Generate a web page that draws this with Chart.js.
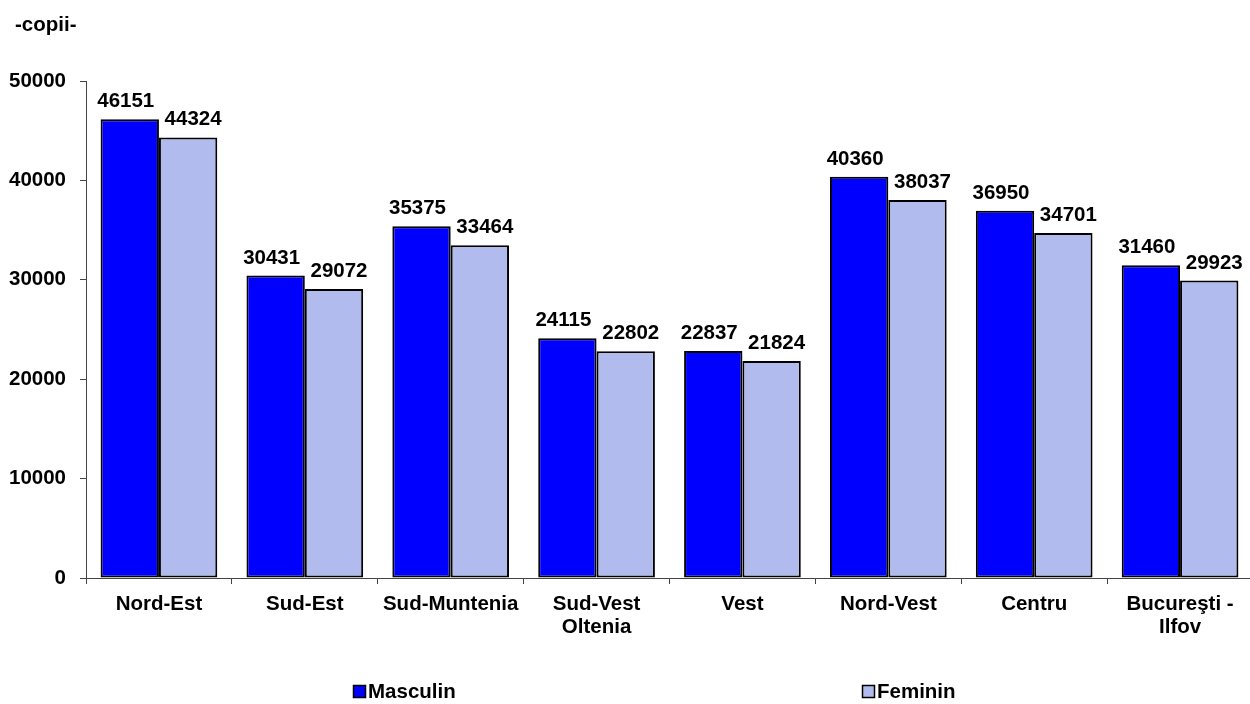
<!DOCTYPE html>
<html>
<head>
<meta charset="utf-8">
<script src="https://cdn.jsdelivr.net/npm/chart.js@4.4.1/dist/chart.umd.min.js"></script>
<style>
  html, body { margin: 0; padding: 0; background: #fff; overflow: hidden; }
  #wrap { position: absolute; left: 0; top: 0; width: 1253px; height: 704px; }
</style>
</head>
<body>
<div id="wrap"><canvas id="c" width="1253" height="704"></canvas></div>
<script>
const categories = [
  "Nord-Est", "Sud-Est", "Sud-Muntenia", ["Sud-Vest", "Oltenia"],
  "Vest", "Nord-Vest", "Centru", ["Bucureşti -", "Ilfov"]
];
const masculin = [46151, 30431, 35375, 24115, 22837, 40360, 36950, 31460];
const feminin  = [44324, 29072, 33464, 22802, 21824, 38037, 34701, 29923];
const seriesNames = ["Masculin", "Feminin"];
const seriesColors = ["#0000FF", "#B2BBEE"];
const unitLabel = "-copii-";
const yMax = 50000;
const yStep = 10000;

const FONT = '"Liberation Sans", Arial, sans-serif';
const FS = 20.5;

const labelsPlugin = {
  id: 'barLabels',
  afterDatasetsDraw(chart) {
    const ctx = chart.ctx;
    ctx.save();
    ctx.font = 'bold ' + FS + 'px ' + FONT;
    ctx.fillStyle = '#000';
    ctx.textAlign = 'center';
    ctx.textBaseline = 'alphabetic';
    chart.data.datasets.forEach((ds, di) => {
      const meta = chart.getDatasetMeta(di);
      const off = di === 0 ? -4 : 5;
      meta.data.forEach((bar, i) => {
        ctx.fillText(String(ds.data[i]), bar.x + off, bar.y - 12);
      });
    });
    ctx.restore();
  },
  afterDraw(chart) {
    const ctx = chart.ctx;
    ctx.save();
    ctx.font = 'bold ' + FS + 'px ' + FONT;
    ctx.fillStyle = '#000';
    ctx.textAlign = 'left';
    ctx.textBaseline = 'alphabetic';
    ctx.fillText(unitLabel, 15, 31);
    // legend
    const items = [{x: 353}, {x: 862}];
    items.forEach((it, i) => {
      ctx.fillStyle = seriesColors[i];
      ctx.fillRect(it.x + 0.5, 685.5, 12, 12);
      ctx.strokeStyle = '#000';
      ctx.lineWidth = 1.5;
      ctx.strokeRect(it.x + 0.5, 685.5, 12, 12);
      ctx.fillStyle = '#000';
      ctx.textBaseline = 'middle';
      ctx.fillText(seriesNames[i], it.x + 15, 692);
    });
    ctx.restore();
  }
};

new Chart(document.getElementById('c'), {
  type: 'bar',
  data: {
    labels: categories,
    datasets: [
      { label: seriesNames[0], data: masculin, backgroundColor: seriesColors[0],
        borderColor: '#000', borderWidth: 2, borderSkipped: false },
      { label: seriesNames[1], data: feminin, backgroundColor: seriesColors[1],
        borderColor: '#000', borderWidth: 2, borderSkipped: false }
    ]
  },
  options: {
    responsive: false,
    animation: false,
    devicePixelRatio: 1,
    layout: { padding: { left: 0, right: 0, top: 81, bottom: 0 } },
    plugins: { legend: { display: false }, tooltip: { enabled: false }, title: { display: false } },
    datasets: { bar: { categoryPercentage: 0.8, barPercentage: 1.0 } },
    scales: {
      x: {
        offset: true,
        grid: { display: true, drawOnChartArea: false, offset: true, tickLength: 6, color: '#444' },
        border: { color: '#444', width: 1 },
        ticks: { color: '#000', font: { family: FONT, size: FS, weight: 'bold', lineHeight: 1.12 }, padding: 9, maxRotation: 0, autoSkip: false },
        afterFit(scale) { scale.height = 126; }
      },
      y: {
        min: 0, max: yMax,
        grid: { display: true, drawOnChartArea: false, tickLength: 6, color: '#444' },
        border: { color: '#444', width: 1 },
        ticks: { stepSize: yStep, color: '#000', font: { family: FONT, size: FS, weight: 'bold' }, padding: 14,
                 callback: (v) => String(v) },
        afterFit(scale) { scale.width = 86; }
      }
    }
  },
  plugins: [labelsPlugin]
});
</script>
</body>
</html>
